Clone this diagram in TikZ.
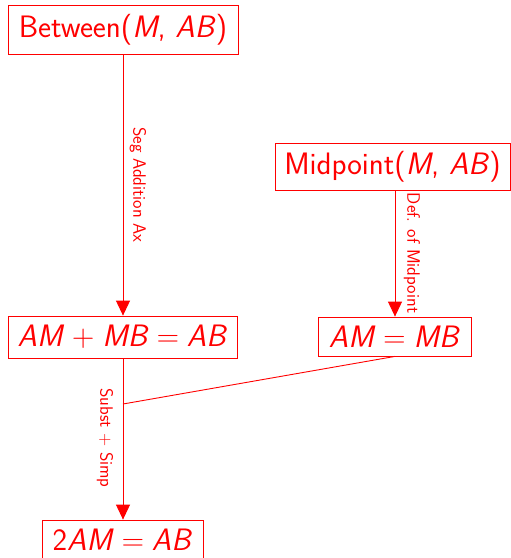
\documentclass[tikz,border=0pt]{standalone}
\usetikzlibrary{arrows.meta}
\newcommand{\vr}[1]{\textit{#1}}
\newcommand{\op}[1]{\hspace{0.25em}#1\hspace{0.25em}}
\tikzset{
  stmt/.style={draw=red, line width=0.8pt, text=red, inner sep=0pt,
    font=\sffamily\fontsize{31}{34}\selectfont},
  rule/.style={text=red, rotate=-90, inner sep=0pt,
    font=\sffamily\fontsize{18}{20}\selectfont},
  link/.style={draw=red, line width=0.9pt},
  step arrow/.style={link, -{Triangle[width=14pt,length=15pt]}},
}
\begin{document}
\begin{tikzpicture}[x=1pt, y=-1pt]
  \useasboundingbox (0,0) rectangle (511,558);
  \node[stmt, minimum width=230pt, minimum height=49pt] (btw) at (123,29.5)
    {Between(\vr{M}, \vr{AB})};
  \node[stmt, minimum width=235pt, minimum height=47pt] (mid) at (392.5,166.5)
    {Midpoint(\vr{M}, \vr{AB})};
  \node[stmt, minimum width=229pt, minimum height=42pt] (sum) at (122.5,337)
    {\vr{AM}\op{+}\vr{MB}\op{=}\vr{AB}};
  \node[stmt, minimum width=153pt, minimum height=39pt] (eq) at (394.5,336.5)
    {\vr{AM}\op{=}\vr{MB}};
  \node[stmt, minimum width=161pt, minimum height=40pt] (res) at (122.5,540)
    {2\vr{AM}\op{=}\vr{AB}};
  \coordinate (j) at (123,404);

  \draw[step arrow] (btw.south -| 123,0) -- (sum.north -| 123,0);
  \draw[step arrow] (mid.south -| 395,0) -- (eq.north -| 395,0);
  \draw[link] (eq.south -| 395,0) -- (j);
  \draw[step arrow] (sum.south -| 123,0) -- (res.north -| 123,0);

  \node[rule] (l1) at (138,185) {Seg Addition Ax};
  \node[rule] (l2) at (412,253) {Def. of Midpoint};
  \node[rule] (l3) at (105,438) {Subst + Simp};
\end{tikzpicture}
\end{document}
